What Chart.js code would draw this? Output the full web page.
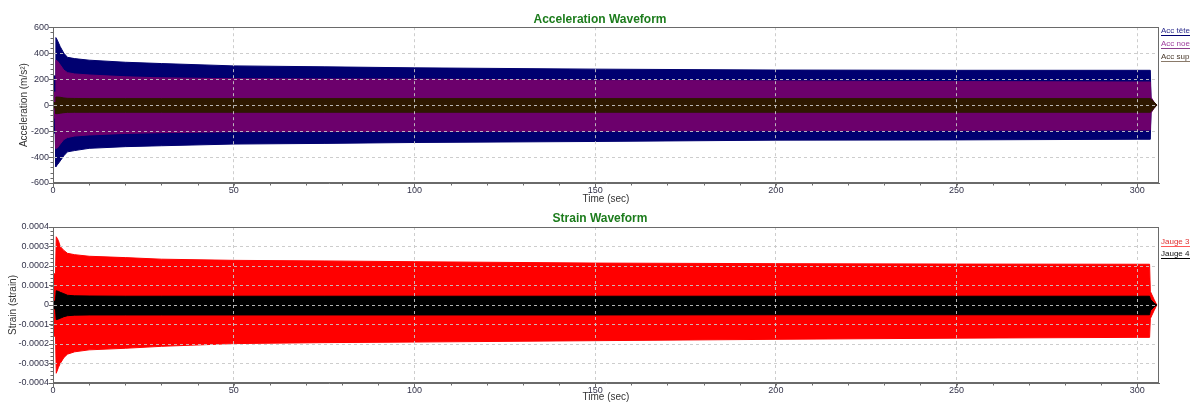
<!DOCTYPE html>
<html>
<head>
<meta charset="utf-8">
<script src="https://cdn.jsdelivr.net/npm/chart.js@4.4.1/dist/chart.umd.min.js"></script>
<style>
  body { margin: 0; background: #fff; width: 1190px; height: 403px; overflow: hidden; position: relative; font-family: "Liberation Sans", Arial, sans-serif; }
  canvas { position: absolute; left: 0; }
  #accCanvas { top: 0; }
  #strainCanvas { top: 205px; }
  .lg { position: absolute; left: 1161px; width: 29px; height: 9px; overflow: hidden; white-space: nowrap; font-size: 8px; line-height: 9px; border-bottom: 1px solid; }
</style>
</head>
<body>
<canvas id="accCanvas" width="1190" height="205"></canvas>
<canvas id="strainCanvas" width="1190" height="198"></canvas>
<div id="legends"></div>
<script>
// x ticks shared by both panels
const timeTicks = [0, 50, 100, 150, 200, 250, 300];

// --- acceleration envelopes (m/s²), upper / lower edge of each trace ---
const accTime = [0, 0.2, 0.6, 0.8, 1.2, 2, 3, 4, 6, 10, 20, 30, 50, 75, 100, 150, 200, 250, 300, 303.6, 303.8, 304.6, 305.4];
const accTeteHigh = [0, 225, 225, 520, 500, 450, 400, 368, 358, 346, 330, 320, 302, 295, 287, 277, 270, 268, 268, 268, 40, 15, 0];
const accTeteLow = [0, -215, -215, -474, -460, -430, -390, -360, -350, -333, -320, -313, -300, -295, -288, -280, -270, -268, -263, -263, -40, -15, 0];
const accNoeudHigh = [0, 100, 100, 346, 340, 310, 270, 250, 240, 232, 218, 210, 203, 201, 200, 192, 186, 181, 178, 178, 60, 25, 0];
const accNoeudLow = [0, -100, -100, -333, -330, -300, -265, -250, -238, -230, -218, -212, -205, -204, -203, -200, -197, -194, -192, -192, -60, -25, 0];
const accSuppHigh = [0, 20, 20, 62, 62, 60, 55, 52, 51, 50, 50, 50, 50, 50, 50, 50, 50, 50, 50, 50, 45, 25, 0];
const accSuppLow = [0, -20, -20, -66, -66, -62, -58, -56, -55, -55, -55, -55, -55, -55, -55, -55, -55, -55, -55, -55, -50, -25, 0];
const accTicks = [-600, -400, -200, 0, 200, 400, 600];
const accTickLabels = ['-600', '-400', '-200', '0', '200', '400', '600'];

// --- strain envelopes ---
const strainTime = [0, 0.2, 0.7, 0.9, 1.5, 2, 3, 4, 6, 10, 20, 30, 50, 75, 100, 150, 200, 250, 300, 303.4, 303.6, 304.6, 305.4];
const jauge3High = [0, 0.00016, 0.00016, 0.00035, 0.00033, 0.0003, 0.00028, 0.000265, 0.000258, 0.00025, 0.000243, 0.000235, 0.000229, 0.000226, 0.000222, 0.000215, 0.000212, 0.00021, 0.000209, 0.000209, 0.00007, 0.00003, 0];
const jauge3Low = [0, -0.00016, -0.00016, -0.00035, -0.00032, -0.0003, -0.00027, -0.000252, -0.00024, -0.00023, -0.000222, -0.000212, -0.000198, -0.000193, -0.00019, -0.000183, -0.000176, -0.00017, -0.000166, -0.000166, -0.00007, -0.00003, 0];
const jauge4High = [0, 0.00002, 0.00002, 0.000073, 0.00007, 0.000065, 0.000058, 0.00005, 0.000047, 0.000046, 0.000045, 0.000045, 0.000045, 0.000045, 0.000045, 0.000045, 0.000045, 0.000045, 0.000045, 0.000045, 0.00003, 0.00001, 0];
const jauge4Low = [0, -0.00002, -0.00002, -0.000075, -0.000072, -0.000068, -0.00006, -0.000055, -0.000052, -0.000051, -0.000051, -0.000051, -0.000051, -0.000051, -0.000051, -0.000051, -0.00005, -0.00005, -0.00005, -0.00005, -0.00003, -0.00001, 0];
const strainTicks = [-0.0004, -0.0003, -0.0002, -0.0001, 0, 0.0001, 0.0002, 0.0003, 0.0004];
const strainTickLabels = ['-0.0004', '-0.0003', '-0.0002', '-0.0001', '0', '0.0001', '0.0002', '0.0003', '0.0004'];

const FONT = '"Liberation Sans", Arial, sans-serif';
const TICK_COLOR = '#33334a';

// one filled band = upper line filled down to the lower line
function band(label, time, high, low, color) {
  const pts = arr => time.map((t, i) => ({ x: t, y: arr[i] }));
  return [
    { label, data: pts(high), borderColor: color, backgroundColor: color, borderWidth: 1, pointRadius: 0, fill: '+1' },
    { label: label + ' min', data: pts(low), borderColor: color, backgroundColor: color, borderWidth: 1, pointRadius: 0, fill: false },
  ];
}

// plot frame + minor ticks, drawn on top
const frameAndMinor = {
  id: 'frameAndMinor',
  afterDraw(chart, args, opts) {
    const { ctx, chartArea: a, scales: { x, y } } = chart;
    ctx.save();
    ctx.strokeStyle = '#6a6a6a';
    ctx.lineWidth = 1;
    const l = Math.round(a.left) + 0.5, r = Math.round(a.right) - 0.5;
    const t = Math.round(a.top) + 0.5, b = Math.round(a.bottom) - 0.5;
    ctx.strokeRect(l, t, r - l, b - t);
    ctx.beginPath();
    for (let i = 0; x.min + i * opts.xStep <= x.max; i++) {
      const px = Math.round(x.getPixelForValue(x.min + i * opts.xStep)) + 0.5;
      ctx.moveTo(px, b); ctx.lineTo(px, b + 3);
    }
    for (let i = 0; y.min + i * opts.yStep <= y.max + opts.yStep / 100; i++) {
      const py = Math.round(y.getPixelForValue(y.min + i * opts.yStep)) + 0.5;
      ctx.moveTo(l - 3, py); ctx.lineTo(l, py);
    }
    ctx.stroke();
    ctx.restore();
  },
};

function makeChart(id, o) {
  return new Chart(document.getElementById(id), {
    type: 'line',
    data: { datasets: o.datasets },
    options: {
      responsive: false,
      animation: false,
      // left pad + empty right axis keep the title centred where the original has it
      layout: { padding: { left: 10, right: 0, top: 0, bottom: 0 } },
      plugins: {
        legend: { display: false },
        tooltip: { enabled: false },
        title: {
          display: true, text: o.title, color: '#1c7c1c',
          font: { family: FONT, size: 12, weight: 'bold' },
          padding: o.titlePad,
        },
        frameAndMinor: { xStep: 10, yStep: o.yMinor },
      },
      scales: {
        x: {
          type: 'linear', min: 0, max: 306,
          afterBuildTicks: s => { s.ticks = timeTicks.map(v => ({ value: v })); },
          afterFit: s => { s.height = o.xHeight; },
          ticks: { color: TICK_COLOR, font: { family: FONT, size: 9 }, padding: -3, maxRotation: 0, autoSkip: false },
          grid: { color: 'rgba(200,200,200,0.9)', z: 1, tickLength: 5, tickColor: '#6a6a6a' },
          border: { color: '#6a6a6a', dash: [3, 3], z: 2 },
          title: { display: true, text: 'Time (sec)', color: '#333', font: { family: FONT, size: 10 }, padding: { top: 0, bottom: 0 } },
        },
        y: {
          type: 'linear', min: o.yTicks[0], max: o.yTicks[o.yTicks.length - 1],
          afterBuildTicks: s => { s.ticks = o.yTicks.map(v => ({ value: v })); },
          afterFit: s => { s.width = 43; },
          ticks: { color: TICK_COLOR, font: { family: FONT, size: 9 }, padding: 0, callback: (v, i) => o.yLabels[i] },
          grid: { color: 'rgba(200,200,200,0.9)', z: 1, tickLength: 4, tickColor: '#6a6a6a' },
          border: { color: '#6a6a6a', dash: [3, 3], z: 2 },
          title: { display: true, text: o.yTitle, color: '#333', font: { family: FONT, size: 10 }, padding: { top: o.yTitleOffset, bottom: 0 } },
        },
        yRight: {
          type: 'linear', position: 'right', display: true,
          afterFit: s => { s.width = 31; },
          ticks: { display: false },
          grid: { display: false, drawTicks: false },
          border: { display: false },
        },
      },
    },
    plugins: [frameAndMinor],
  });
}

// later datasets are painted first, so inner traces go first
makeChart('accCanvas', {
  title: 'Acceleration Waveform',
  titlePad: { top: 12.8, bottom: 0 },
  xHeight: 22,
  yTicks: accTicks, yLabels: accTickLabels, yMinor: 40,
  yTitle: 'Acceleration (m/s²)', yTitleOffset: 8,
  datasets: [
    ...band('Acc support', accTime, accSuppHigh, accSuppLow, '#2e1800'),
    ...band('Acc noeud', accTime, accNoeudHigh, accNoeudLow, '#6c006c'),
    ...band('Acc tête', accTime, accTeteHigh, accTeteLow, '#000070'),
  ],
});

makeChart('strainCanvas', {
  title: 'Strain Waveform',
  titlePad: { top: 6.8, bottom: 0.8 },
  xHeight: 20,
  yTicks: strainTicks, yLabels: strainTickLabels, yMinor: 0.00002,
  yTitle: 'Strain (strain)', yTitleOffset: -3,
  datasets: [
    ...band('Jauge 4', strainTime, jauge4High, jauge4Low, '#000000'),
    ...band('Jauge 3', strainTime, jauge3High, jauge3Low, '#ff0000'),
  ],
});

// side legends (clipped at the window edge like the original)
const legendItems = [
  { text: 'Acc tête', top: 26, color: '#2b2b8c', line: '#000070' },
  { text: 'Acc noeud', top: 39, color: '#a040a0', line: '#8c3c8c' },
  { text: 'Acc support', top: 52, color: '#4a3a2c', line: '#8a7a6a' },
  { text: 'Jauge 3', top: 237, color: '#e03030', line: '#ff5a5a' },
  { text: 'Jauge 4', top: 249, color: '#111', line: '#000' },
];
const box = document.getElementById('legends');
legendItems.forEach(it => {
  const d = document.createElement('div');
  d.className = 'lg';
  d.textContent = it.text;
  d.style.top = it.top + 'px';
  d.style.color = it.color;
  d.style.borderBottomColor = it.line;
  box.appendChild(d);
});
</script>
</body>
</html>
